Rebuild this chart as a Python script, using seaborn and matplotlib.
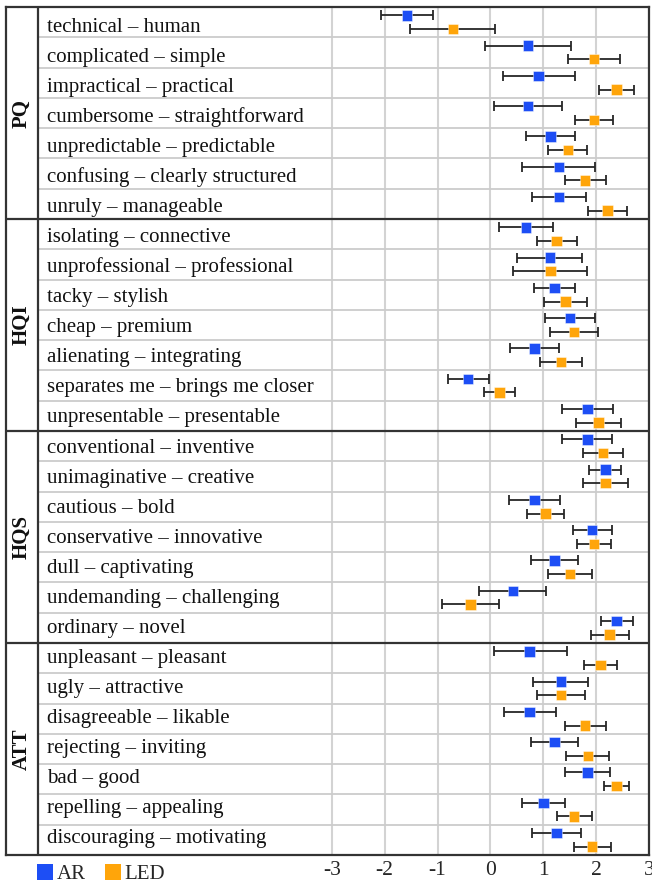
import numpy as np
import pandas as pd
import matplotlib
matplotlib.use("Agg")
import matplotlib.pyplot as plt
from matplotlib.lines import Line2D
import seaborn as sns

groups = ["PQ", "HQI", "HQS", "ATT"]
items = [
    "technical – human", "complicated – simple", "impractical – practical",
    "cumbersome – straightforward", "unpredictable – predictable",
    "confusing – clearly structured", "unruly – manageable",
    "isolating – connective", "unprofessional – professional", "tacky – stylish",
    "cheap – premium", "alienating – integrating", "separates me – brings me closer",
    "unpresentable – presentable",
    "conventional – inventive", "unimaginative – creative", "cautious – bold",
    "conservative – innovative", "dull – captivating", "undemanding – challenging",
    "ordinary – novel",
    "unpleasant – pleasant", "ugly – attractive", "disagreeable – likable",
    "rejecting – inviting", "bad – good", "repelling – appealing",
    "discouraging – motivating",
]
ar_mean = [-1.58, 0.71, 0.91, 0.71, 1.13, 1.29, 1.29,
           0.67, 1.12, 1.21, 1.50, 0.83, -0.42, 1.83,
           1.83, 2.17, 0.83, 1.92, 1.21, 0.42, 2.38,
           0.74, 1.33, 0.74, 1.21, 1.83, 1.00, 1.25]
ar_lo = [-2.07, -0.10, 0.24, 0.06, 0.67, 0.60, 0.78,
         0.16, 0.51, 0.82, 1.03, 0.36, -0.81, 1.35,
         1.36, 1.87, 0.35, 1.55, 0.77, -0.21, 2.08,
         0.06, 0.81, 0.26, 0.77, 1.41, 0.59, 0.79]
ar_hi = [-1.09, 1.52, 1.60, 1.36, 1.60, 1.98, 1.80,
         1.18, 1.73, 1.60, 1.97, 1.30, -0.03, 2.31,
         2.30, 2.47, 1.31, 2.30, 1.65, 1.05, 2.69,
         1.44, 1.85, 1.24, 1.65, 2.25, 1.41, 1.71]
led_mean = [-0.71, 1.96, 2.38, 1.96, 1.46, 1.79, 2.21,
            1.25, 1.13, 1.42, 1.58, 1.33, 0.17, 2.04,
            2.13, 2.17, 1.04, 1.96, 1.50, -0.38, 2.25,
            2.08, 1.33, 1.79, 1.84, 2.38, 1.58, 1.92]
led_lo = [-1.52, 1.47, 2.05, 1.60, 1.09, 1.40, 1.84,
          0.87, 0.43, 1.01, 1.12, 0.94, -0.13, 1.62,
          1.75, 1.75, 0.69, 1.64, 1.09, -0.92, 1.89,
          1.77, 0.88, 1.41, 1.43, 2.15, 1.25, 1.58]
led_hi = [0.09, 2.45, 2.71, 2.32, 1.83, 2.18, 2.57,
          1.63, 1.83, 1.83, 2.04, 1.72, 0.47, 2.46,
          2.51, 2.59, 1.39, 2.28, 1.92, 0.16, 2.61,
          2.39, 1.78, 2.18, 2.23, 2.62, 1.92, 2.28]
devices = ["AR", "LED"]
tick_values = [-3, -2, -1, 0, 1, 2, 3]

colors = {"AR": "#1d4ef5", "LED": "#ffa50a"}
offsets = {"AR": -0.225, "LED": 0.225}

rows = []
for dev, m, lo, hi in [("AR", ar_mean, ar_lo, ar_hi), ("LED", led_mean, led_lo, led_hi)]:
    for i, it in enumerate(items):
        rows.append(dict(item=it, row=i, device=dev, mean=m[i], lo=lo[i], hi=hi[i],
                         ypos=i + offsets[dev]))
df = pd.DataFrame(rows)

sns.set_theme(style="white")
plt.rcParams["font.family"] = ["Liberation Serif", "DejaVu Serif"]

W, H = 652, 884
fig = plt.figure(figsize=(W / 100, H / 100), dpi=100)
left_px, right_px, top_px, bot_px = 6, 649.3, 7, 855
ax = fig.add_axes([left_px / W, 1 - bot_px / H, (right_px - left_px) / W, (bot_px - top_px) / H])

unit = (649.3 - 331.7) / 6.0
row_px = (bot_px - top_px) / len(items)
xmin = -3 - (331.7 - left_px) / unit
ax.set_xlim(xmin, 3)
ax.set_ylim(len(items) - 0.5, -0.5)

# error bars
for dev in devices:
    d = df[df.device == dev]
    ax.errorbar(d["mean"], d["ypos"], xerr=[d["mean"] - d["lo"], d["hi"] - d["mean"]],
                fmt="none", ecolor="#262626", elinewidth=1.3, capsize=3.4, capthick=1.3, zorder=3)

sns.scatterplot(data=df, x="mean", y="ypos", hue="device", palette=colors, marker="s",
                s=56, linewidth=0.6, edgecolor="#ffffff80", legend=False, zorder=4, ax=ax)

ax.set_xticks(tick_values)
ax.set_xticklabels([str(v) for v in tick_values], fontsize=15.5)
ax.set_yticks([])
ax.set_xlabel("")
ax.set_ylabel("")
ax.tick_params(axis="x", length=0, pad=4)
ax.grid(axis="x", color="#d3d3d3", lw=1.5, zorder=0)
ax.set_axisbelow(True)

col_x = xmin + (37.7 - left_px) / unit
text_x = xmin + (46.7 - left_px) / unit
grp_x = xmin + (21.5 - left_px) / unit
frac = (37.7 - left_px) / (right_px - left_px)

for b in range(1, len(items)):
    if b % 7 == 0:
        ax.axhline(b - 0.5, color="#333333", lw=1.6, zorder=2)
    else:
        ax.axhline(b - 0.5, xmin=frac, color="#cccccc", lw=1.3, zorder=1)
ax.axvline(col_x, color="#333333", lw=1.6, zorder=2)

for i, it in enumerate(items):
    base_px = 31.7 + i * 30.06
    ty = (base_px - top_px) / row_px - 0.5
    ax.text(text_x, ty, it, fontsize=15, ha="left", va="baseline", color="#111111", zorder=5)
for g, name in enumerate(groups):
    ax.text(grp_x, g * 7 + 3, name, fontsize=15, fontweight="bold", rotation=90,
            ha="center", va="center", color="#111111")

for s in ax.spines.values():
    s.set_visible(True)
    s.set_color("#333333")
    s.set_linewidth(1.6)

handles = [Line2D([], [], marker="s", ls="", markersize=12, color=colors[d], markeredgewidth=0)
           for d in devices]
fig.legend(handles, devices, loc="lower left", bbox_to_anchor=(22 / W, -15 / H), ncol=2,
           frameon=False, fontsize=15, handlelength=0.8, handletextpad=0.15,
           columnspacing=0.92, borderpad=0.2)

fig.savefig("out.png", dpi=100)
